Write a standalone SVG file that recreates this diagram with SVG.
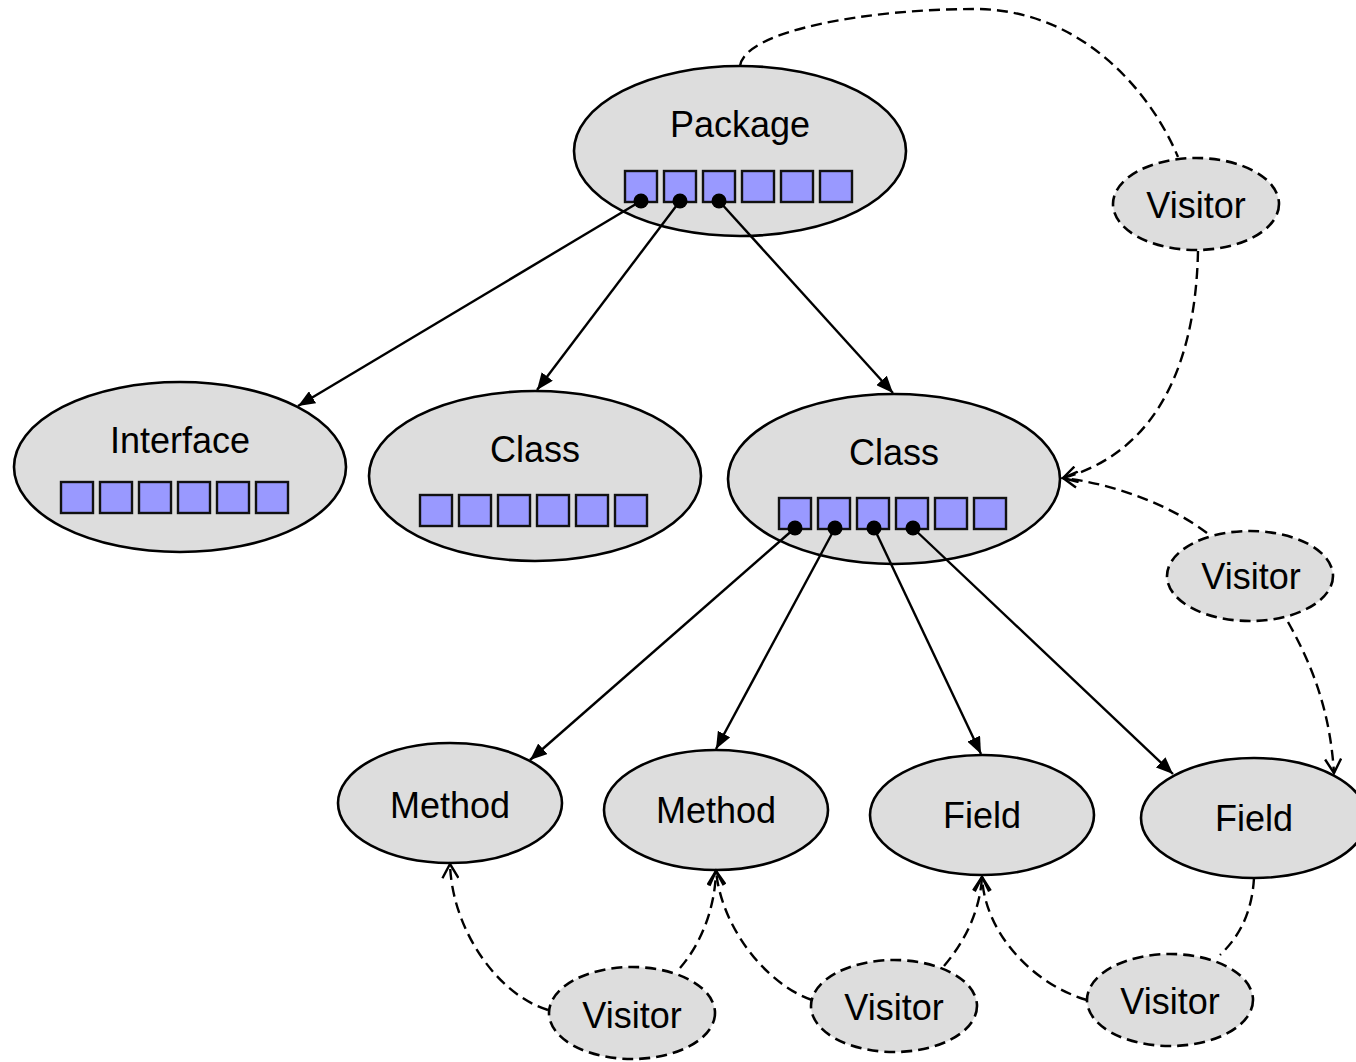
<svg xmlns="http://www.w3.org/2000/svg" width="1356" height="1062" viewBox="0 0 1356 1062">
  <style>
    .node { fill: #dddddd; stroke: #000; stroke-width: 2.6; }
    .visitor { fill: #dddddd; stroke: #000; stroke-width: 2.6; stroke-dasharray: 11 6; }
    .label { font-family: "Liberation Sans", Arial, sans-serif; font-size: 36px; fill: #000; text-anchor: middle; }
    .slot { fill: #9999ff; stroke: #111; stroke-width: 2.4; }
    .ref { fill: none; stroke: #000; stroke-width: 2.4; }
    .visit { fill: none; stroke: #000; stroke-width: 2.4; stroke-dasharray: 11 6; }
    .dot { fill: #000; }
  </style>
  <defs>
    <marker id="solid" markerUnits="userSpaceOnUse" markerWidth="18" markerHeight="14" refX="17" refY="7" orient="auto">
      <path d="M0,0 L17,7 L0,14 z" fill="#000"/>
    </marker>
    <marker id="open" markerUnits="userSpaceOnUse" markerWidth="18" markerHeight="18" refX="15" refY="9" orient="auto">
      <path d="M1,1 L15,9 L1,17" fill="none" stroke="#000" stroke-width="2.4"/>
    </marker>
    <g id="slots6">
      <rect class="slot" x="0" y="0" width="32" height="31"/>
      <rect class="slot" x="39" y="0" width="32" height="31"/>
      <rect class="slot" x="78" y="0" width="32" height="31"/>
      <rect class="slot" x="117" y="0" width="32" height="31"/>
      <rect class="slot" x="156" y="0" width="32" height="31"/>
      <rect class="slot" x="195" y="0" width="32" height="31"/>
    </g>
  </defs>

  <!-- element nodes -->
  <g id="package">
    <ellipse class="node" cx="740" cy="151" rx="166" ry="85"/>
    <text class="label" x="740" y="137">Package</text>
    <use href="#slots6" x="625" y="171"/>
  </g>
  <g id="interface">
    <ellipse class="node" cx="180" cy="467" rx="166" ry="85"/>
    <text class="label" x="180" y="453">Interface</text>
    <use href="#slots6" x="61" y="482"/>
  </g>
  <g id="class-a">
    <ellipse class="node" cx="535" cy="476" rx="166" ry="85"/>
    <text class="label" x="535" y="462">Class</text>
    <use href="#slots6" x="420" y="495"/>
  </g>
  <g id="class-b">
    <ellipse class="node" cx="894" cy="479" rx="166" ry="85"/>
    <text class="label" x="894" y="465">Class</text>
    <use href="#slots6" x="779" y="498"/>
  </g>
  <g id="method-a">
    <ellipse class="node" cx="450" cy="803" rx="112" ry="60"/>
    <text class="label" x="450" y="818">Method</text>
  </g>
  <g id="method-b">
    <ellipse class="node" cx="716" cy="810" rx="112" ry="60"/>
    <text class="label" x="716" y="823">Method</text>
  </g>
  <g id="field-a">
    <ellipse class="node" cx="982" cy="815" rx="112" ry="60"/>
    <text class="label" x="982" y="828">Field</text>
  </g>
  <g id="field-b">
    <ellipse class="node" cx="1254" cy="818" rx="113" ry="60"/>
    <text class="label" x="1254" y="831">Field</text>
  </g>

  <!-- visitor nodes -->
  <g id="visitor-1">
    <ellipse class="visitor" cx="1196" cy="204" rx="83" ry="46"/>
    <text class="label" x="1196" y="218">Visitor</text>
  </g>
  <g id="visitor-2">
    <ellipse class="visitor" cx="1250" cy="576" rx="83" ry="45"/>
    <text class="label" x="1251" y="589">Visitor</text>
  </g>
  <g id="visitor-3">
    <ellipse class="visitor" cx="632" cy="1013" rx="83" ry="46"/>
    <text class="label" x="632" y="1028">Visitor</text>
  </g>
  <g id="visitor-4">
    <ellipse class="visitor" cx="894" cy="1006" rx="83" ry="46"/>
    <text class="label" x="894" y="1020">Visitor</text>
  </g>
  <g id="visitor-5">
    <ellipse class="visitor" cx="1170" cy="1000" rx="83" ry="46"/>
    <text class="label" x="1170" y="1014">Visitor</text>
  </g>

  <!-- connectors -->
  <g id="connectors">
    <!-- containment references -->
    <path class="ref" d="M641,201 L298,406" marker-end="url(#solid)"/>
    <path class="ref" d="M680,201 L537,390" marker-end="url(#solid)"/>
    <path class="ref" d="M719,201 L893,393" marker-end="url(#solid)"/>
    <path class="ref" d="M795,528 L530,760" marker-end="url(#solid)"/>
    <path class="ref" d="M835,528 L716,749" marker-end="url(#solid)"/>
    <path class="ref" d="M874,528 L981,754" marker-end="url(#solid)"/>
    <path class="ref" d="M913,528 L1173,774" marker-end="url(#solid)"/>
    <circle class="dot" cx="641" cy="201" r="7.5"/>
    <circle class="dot" cx="680" cy="201" r="7.5"/>
    <circle class="dot" cx="719" cy="201" r="7.5"/>
    <circle class="dot" cx="795" cy="528" r="7.5"/>
    <circle class="dot" cx="835" cy="528" r="7.5"/>
    <circle class="dot" cx="874" cy="528" r="7.5"/>
    <circle class="dot" cx="913" cy="528" r="7.5"/>

    <!-- visitor traversal -->
    <path class="visit" d="M740,66 C745,30 870,9 975,9 C1080,9 1150,90 1178,157"/>
    <path class="visit" d="M1198,251 C1196,350 1165,450 1063,478" marker-end="url(#open)"/>
    <path class="visit" d="M1207,533 C1170,505 1115,484 1063,478" marker-end="url(#open)"/>
    <path class="visit" d="M1288,622 C1312,665 1330,710 1334,773" marker-end="url(#open)"/>
    <path class="visit" d="M1254,878 C1252,912 1240,936 1220,955"/>
    <path class="visit" d="M1087,1000 C1035,985 985,935 982,877" marker-end="url(#open)"/>
    <path class="visit" d="M944,966 C966,940 980,910 982,877" marker-end="url(#open)"/>
    <path class="visit" d="M812,1000 C768,985 722,930 716,871" marker-end="url(#open)"/>
    <path class="visit" d="M680,968 C700,945 715,910 716,871" marker-end="url(#open)"/>
    <path class="visit" d="M548,1010 C498,995 452,930 450,864" marker-end="url(#open)"/>
  </g>
</svg>
